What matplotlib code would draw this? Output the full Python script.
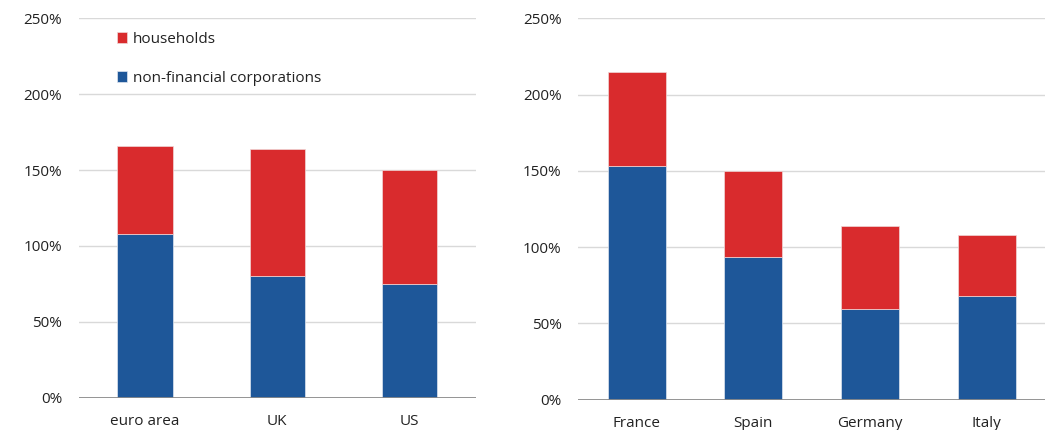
import matplotlib
matplotlib.use("Agg")
import matplotlib.pyplot as plt
from matplotlib.ticker import FuncFormatter
import numpy as np

# Debt by sector, % of GDP
regions = ["euro area", "UK", "US"]
regions_nfc = [107.7, 80.0, 74.7]
regions_hh = [57.9, 83.7, 75.3]

countries = ["France", "Spain", "Germany", "Italy"]
countries_nfc = [153.0, 93.4, 59.3, 68.0]
countries_hh = [61.8, 56.5, 54.4, 40.2]

y_ticks = [0, 50, 100, 150, 200, 250]

BLUE = "#1e5799"
RED = "#d92b2d"
GRID = "#d9d9d9"
BASE = "#8a8a8a"
TEXT = "#222222"

plt.rcParams["font.family"] = ["Open Sans", "DejaVu Sans"]

fig = plt.figure(figsize=(10.53, 4.30), dpi=100)
ax1 = fig.add_axes([79 / 1053, 1 - 397.7 / 430, (475.7 - 79) / 1053, (397.7 - 18.3) / 430])
ax2 = fig.add_axes([578.3 / 1053, 1 - 399.7 / 430, (1045 - 578.3) / 1053, (399.7 - 18.3) / 430])


def draw(ax, cats, nfc, hh, width):
    x = np.arange(len(cats))
    b_nfc = ax.bar(x, nfc, width, color=BLUE, edgecolor="#dfe6f0", linewidth=0.5, zorder=3,
                   label="non-financial corporations")
    b_hh = ax.bar(x, hh, width, bottom=nfc, color=RED, edgecolor="#f0d8d8", linewidth=0.5,
                  zorder=3, label="households")
    ax.set_xlim(-0.5, len(cats) - 0.5)
    ax.set_ylim(0, 250)
    ax.set_yticks(y_ticks)
    ax.yaxis.set_major_formatter(FuncFormatter(lambda v, p: f"{v:.0f}%"))
    ax.set_xticks(x)
    ax.set_xticklabels(cats)
    for s in ax.spines.values():
        s.set_visible(False)
    for t in y_ticks[1:]:
        ax.axhline(t, color=GRID, lw=1.0, zorder=1)
    ax.axhline(0, color=BASE, lw=2.0, zorder=4)
    ax.tick_params(axis="both", length=0, labelsize=11, colors=TEXT)
    ax.tick_params(axis="y", pad=12)
    ax.tick_params(axis="x", pad=11.5)
    return b_nfc, b_hh


b_nfc, b_hh = draw(ax1, regions, regions_nfc, regions_hh, 0.418)
draw(ax2, countries, countries_nfc, countries_hh, 0.497)

leg = ax1.legend([b_hh, b_nfc], ["households", "non-financial corporations"],
                 loc="upper left", bbox_to_anchor=(0.097, 0.964), frameon=False,
                 fontsize=11, handlelength=0.65, handleheight=0.65,
                 handletextpad=0.35, labelspacing=1.57, borderpad=0, borderaxespad=0)
for t in leg.get_texts():
    t.set_color(TEXT)

fig.savefig("out.png", dpi=100)
